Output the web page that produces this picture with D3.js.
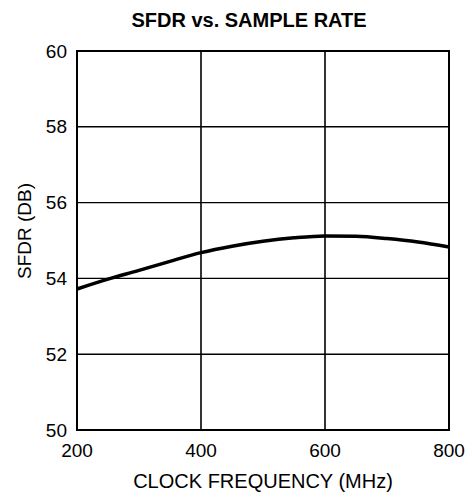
<!DOCTYPE html>
<html>
<head>
<meta charset="utf-8">
<script src="https://cdn.jsdelivr.net/npm/d3@7"></script>
<style>
  html, body { margin: 0; padding: 0; background: #fff; }
  svg { display: block; }
  text { font-family: "Liberation Sans", Arial, Helvetica, sans-serif; fill: #000; }
</style>
</head>
<body>
<svg id="chart" width="472" height="499"></svg>
<script>
const title = "SFDR vs. SAMPLE RATE";
const xLabel = "CLOCK FREQUENCY (MHz)";
const yLabel = "SFDR (DB)";
const xTicks = [200, 400, 600, 800];
const yTicks = [50, 52, 54, 56, 58, 60];
const clockMHz = [200, 250, 300, 350, 400, 450, 500, 550, 600, 650, 700, 750, 800];
const sfdrDb  = [53.72, 53.98, 54.21, 54.45, 54.68, 54.85, 54.98, 55.07, 55.12, 55.11, 55.05, 54.96, 54.83];

const W = 472, H = 499;
const m = { left: 77, top: 51, right: 23, bottom: 69 };
const svg = d3.select("#chart");

const x = d3.scaleLinear().domain([200, 800]).range([m.left, W - m.right]);
const y = d3.scaleLinear().domain([50, 60]).range([H - m.bottom, m.top]);

// grid
const g = svg.append("g");
g.selectAll(".vg").data(xTicks.slice(1, -1)).join("line")
  .attr("x1", d => x(d)).attr("x2", d => x(d))
  .attr("y1", y(50)).attr("y2", y(60))
  .attr("stroke", "#000").attr("stroke-width", 1.6);
g.selectAll(".hg").data(yTicks.slice(1, -1)).join("line")
  .attr("x1", x(200)).attr("x2", x(800))
  .attr("y1", d => y(d)).attr("y2", d => y(d))
  .attr("stroke", "#000").attr("stroke-width", 1.4);

// frame
g.append("rect")
  .attr("x", x(200)).attr("y", y(60))
  .attr("width", x(800) - x(200)).attr("height", y(50) - y(60))
  .attr("fill", "none").attr("stroke", "#000").attr("stroke-width", 2);

// curve
const line = d3.line().x((d, i) => x(clockMHz[i])).y(d => y(d)).curve(d3.curveMonotoneX);
svg.append("path").datum(sfdrDb).attr("d", line)
  .attr("fill", "none").attr("stroke", "#000").attr("stroke-width", 3.5);

// tick labels
svg.selectAll(".yt").data(yTicks).join("text")
  .attr("x", x(200) - 10).attr("y", d => y(d))
  .attr("dy", "0.35em").attr("text-anchor", "end")
  .attr("font-size", 19).text(d => d);
svg.selectAll(".xt").data(xTicks).join("text")
  .attr("x", d => x(d)).attr("y", y(50) + 27)
  .attr("text-anchor", "middle")
  .attr("font-size", 19).text(d => d);

// titles
svg.append("text").attr("x", 249).attr("y", 27)
  .attr("text-anchor", "middle").attr("font-size", 20).attr("font-weight", "bold")
  .text(title);
svg.append("text").attr("x", (x(200) + x(800)) / 2).attr("y", 488)
  .attr("text-anchor", "middle").attr("font-size", 20).text(xLabel);
svg.append("text")
  .attr("transform", `translate(31, ${231}) rotate(-90)`)
  .attr("text-anchor", "middle").attr("font-size", 19).text(yLabel);
</script>
</body>
</html>
